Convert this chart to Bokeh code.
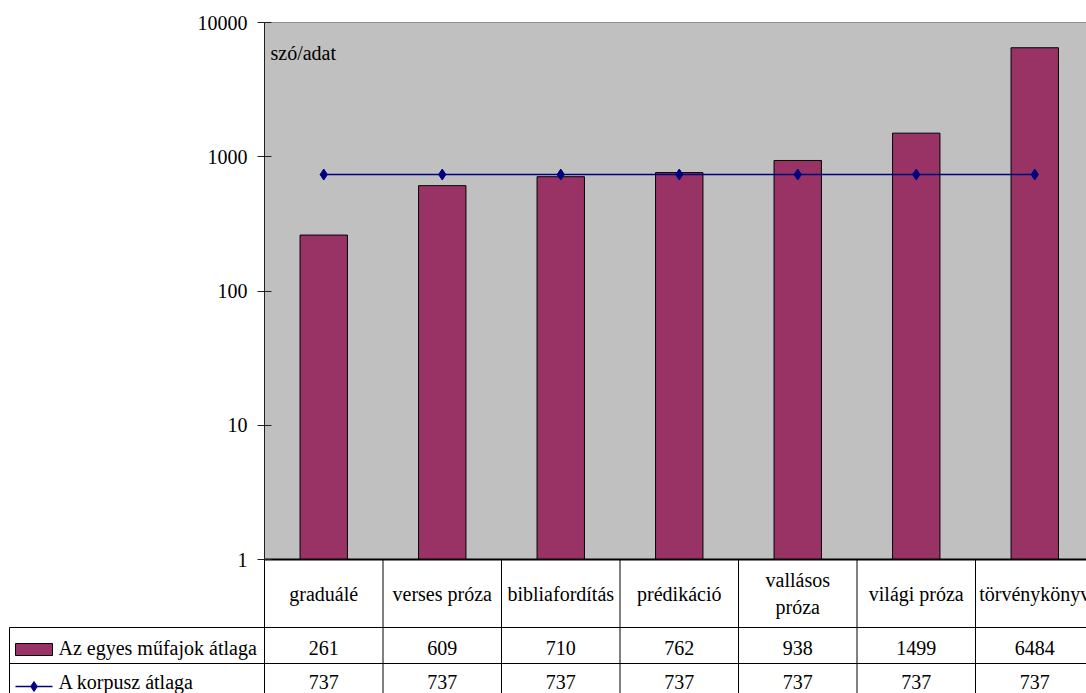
from bokeh.plotting import figure
from bokeh.models import Range1d, LinearScale, LogScale, LogAxis, FixedTicker, PrintfTickFormatter
from bokeh.core.properties import value
from bokeh.embed import file_html
from bokeh.resources import INLINE

# ---- data ----
categories = ["graduálé", "verses próza", "bibliafordítás", "prédikáció",
              "vallásos\npróza", "világi próza", "törvénykönyv"]
genre_avg = [261, 609, 710, 762, 938, 1499, 6484]
corpus_avg = [737, 737, 737, 737, 737, 737, 737]
series_names = ["Az egyes műfajok átlaga", "A korpusz átlaga"]
y_ticks = [1, 10, 100, 1000, 10000]
y_title = "szó/adat"

# ---- layout constants (figure pixels) ----
W, H = 1086, 693
AX_X = 264.0            # left edge of plot area
TOP, BOT = 22.0, 559.0  # y of 10000 and of 1
COLW = 118.5
DEC = (BOT - TOP) / 4.0
ROW1, ROW2 = 627.0, 663.0
LEG_X = 9.0

FONT = value("Liberation Serif")
FS = "20px"
BAR_COLOR = "#993366"
LINE_COLOR = "#000080"

ylo = 10 ** (-(H - BOT) / DEC)
yhi = 10 ** (4 + TOP / DEC)

p = figure(width=W, height=H, output_backend="svg", toolbar_location=None,
           x_axis_location=None, y_axis_location=None,
           x_range=Range1d(-AX_X / COLW, (W - AX_X) / COLW),
           y_range=Range1d(ylo, yhi), y_axis_type="log",
           min_border=0, min_border_left=0, min_border_right=0,
           min_border_top=0, min_border_bottom=0)
p.y_scale = LogScale()
p.outline_line_color = None
p.background_fill_color = "white"
p.border_fill_color = "white"
p.xgrid.visible = False
p.ygrid.visible = False

p.extra_x_ranges = {"px": Range1d(0, W)}
p.extra_y_ranges = {"py": Range1d(H, 0)}
p.extra_y_scales = {"py": LinearScale()}

n = len(categories)
xs = [i + 0.5 for i in range(n)]

# plot area background
p.quad(left=[0], right=[n], bottom=[y_ticks[0]], top=[y_ticks[-1]],
       fill_color="#C0C0C0", line_color="#909090", line_width=1)

# bars
p.vbar(x=xs, width=0.4, bottom=1, top=genre_avg, fill_color=BAR_COLOR,
       line_color="black", line_width=1)

# corpus average line
p.line(x=xs, y=corpus_avg, line_color=LINE_COLOR, line_width=1.5)
p.scatter(x=xs, y=corpus_avg, marker="diamond", size=11,
          fill_color=LINE_COLOR, line_color=LINE_COLOR)

# y axis
ax = LogAxis(fixed_location=0, bounds=(1, 10000),
             ticker=FixedTicker(ticks=y_ticks),
             formatter=PrintfTickFormatter(format="%d"))
ax.axis_line_color = "#202020"
ax.axis_line_width = 1
ax.major_tick_in = 7
ax.major_tick_out = 7
ax.major_tick_line_color = "#202020"
ax.minor_tick_in = 0
ax.minor_tick_out = 0
ax.major_label_standoff = 10
ax.major_label_text_font = "Liberation Serif"
ax.major_label_text_font_size = FS
ax.major_label_text_color = "black"
p.add_layout(ax, "left")

# y title inside plot
p.text(x=[AX_X + 6], y=[TOP + 30], text=[y_title], x_range_name="px", y_range_name="py",
       text_font=FONT, text_font_size=FS, text_color="black",
       text_align="left", text_baseline="alphabetic")

# ---- data table ----
p.segment(x0=[0], x1=[n], y0=[BOT], y1=[BOT], y_range_name="py",
          line_color="black", line_width=2)
bx = list(range(0, n))
p.segment(x0=bx, x1=bx, y0=[BOT] * len(bx), y1=[H] * len(bx), y_range_name="py",
          line_color="black", line_width=1)
p.segment(x0=[LEG_X, LEG_X], x1=[W, W], y0=[ROW1, ROW2], y1=[ROW1, ROW2],
          x_range_name="px", y_range_name="py", line_color="black", line_width=1)
p.segment(x0=[LEG_X], x1=[LEG_X], y0=[ROW1], y1=[H], x_range_name="px", y_range_name="py",
          line_color="black", line_width=1)

# category labels
p.text(x=xs, y=[(BOT + ROW1) / 2] * n, text=categories, y_range_name="py",
       text_font=FONT, text_font_size=FS, text_color="black",
       text_align="center", text_baseline="middle", text_line_height=1.2)
# values
p.text(x=xs, y=[(ROW1 + ROW2) / 2 + 2] * n, text=[str(v) for v in genre_avg], y_range_name="py",
       text_font=FONT, text_font_size=FS, text_color="black",
       text_align="center", text_baseline="middle")
p.text(x=xs, y=[(ROW2 + H) / 2 + 3] * n, text=[str(v) for v in corpus_avg], y_range_name="py",
       text_font=FONT, text_font_size=FS, text_color="black",
       text_align="center", text_baseline="middle")

# legend keys
p.quad(left=[LEG_X + 6], right=[LEG_X + 43], bottom=[655], top=[643],
       x_range_name="px", y_range_name="py",
       fill_color=BAR_COLOR, line_color="black", line_width=1)
p.line(x=[LEG_X + 6, LEG_X + 43], y=[686, 686], x_range_name="px", y_range_name="py",
       line_color=LINE_COLOR, line_width=1.5)
p.scatter(x=[LEG_X + 24.5], y=[686], marker="diamond", size=10, x_range_name="px", y_range_name="py",
          fill_color=LINE_COLOR, line_color=LINE_COLOR)
p.text(x=[LEG_X + 49, LEG_X + 49], y=[(ROW1 + ROW2) / 2 + 2, (ROW2 + H) / 2 + 3], text=series_names,
       x_range_name="px", y_range_name="py",
       text_font=FONT, text_font_size=FS, text_color="black",
       text_align="left", text_baseline="middle")

open("out.html", "w").write(file_html(p, INLINE))
